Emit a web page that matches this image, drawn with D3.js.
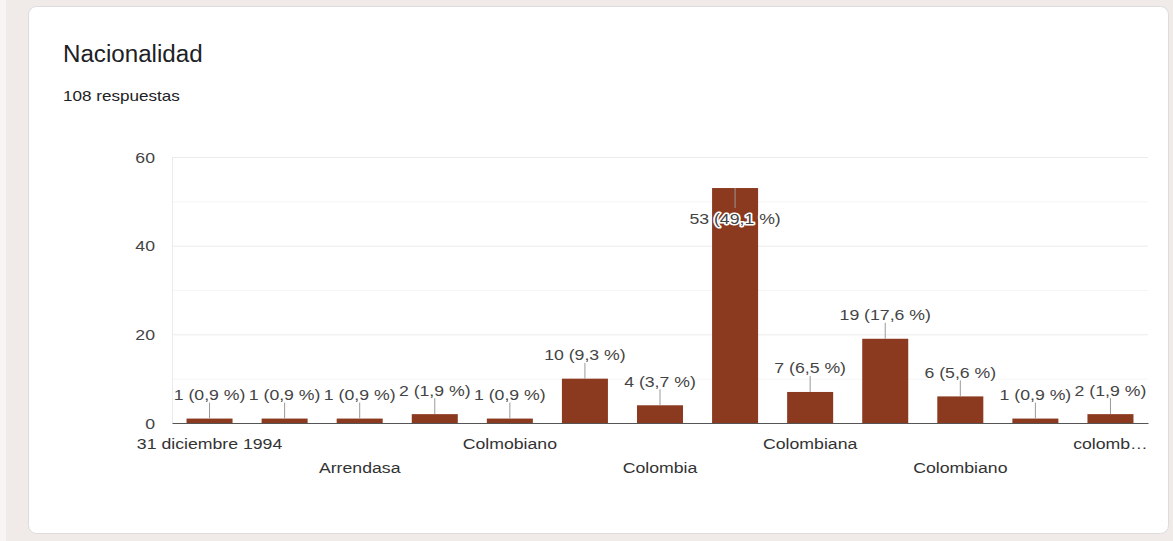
<!DOCTYPE html>
<html>
<head>
<meta charset="utf-8">
<script src="https://cdn.jsdelivr.net/npm/d3@7"></script>
<style>
  html, body { margin: 0; padding: 0; background: #f0ebe9; }
  svg { display: block; font-family: "Liberation Sans", Arial, sans-serif; }
</style>
</head>
<body>
<svg id="chart" width="1173" height="541"></svg>
<script>
// ---- data ----
const title = "Nacionalidad";
const subtitle = "108 respuestas";
const categories = [
  "31 diciembre 1994", "Antioqueño", "Arrendasa", "Caleña", "Colmobiano",
  "Colomb", "Colombia", "Colombia ", "Colombiana", "Colombiana ",
  "Colombiano", "Colombiano ", "colombiana"
];
const counts = [1, 1, 1, 2, 1, 10, 4, 53, 7, 19, 6, 1, 2];
const yTickValues = [0, 20, 40, 60];
const yGridValues = [10, 20, 30, 40, 50, 60];

// ---- layout ----
const W = 1173, H = 541;
const plot = { left: 172, right: 1148, top: 157, bottom: 423 };
const SX = 1.22;           // horizontal text stretch seen in the reference
const barColor = "#8b3a1f";
const total = d3.sum(counts);

const svg = d3.select("#chart");

// page background strips + card
svg.append("rect").attr("x", 0).attr("y", 0).attr("width", 6).attr("height", H).attr("fill", "#f7f4f3");
svg.append("rect")
  .attr("x", 28.5).attr("y", 6.5).attr("width", 1140).attr("height", 527)
  .attr("rx", 8).attr("ry", 8)
  .attr("fill", "#ffffff").attr("stroke", "#dcdcdc").attr("stroke-width", 1);

// helper for stretched text
function stretchedText(parent, x, y, str, size, opts = {}) {
  return parent.append("text")
    .attr("transform", `translate(${x},${y}) scale(${opts.sx ?? SX},1)`)
    .attr("text-anchor", opts.anchor || "start")
    .attr("font-size", size)
    .attr("fill", opts.fill || "#333")
    .text(str);
}

// title + subtitle
stretchedText(svg, 63, 62, title, 23, { fill: "#202124", sx: 1.05 });
stretchedText(svg, 63, 101, subtitle, 14, { fill: "#202124" });

// scales
const x = d3.scaleBand()
  .domain(categories)
  .range([plot.left, plot.right])
  .paddingInner(0.387)
  .paddingOuter(0.1935);
const y = d3.scaleLinear().domain([0, 60]).range([plot.bottom, plot.top]);

// gridlines
const grid = svg.append("g").attr("transform", `translate(${plot.left},0)`)
  .call(d3.axisLeft(y).tickValues(yGridValues).tickSize(-(plot.right - plot.left)).tickFormat(""));
grid.select(".domain").remove();
grid.selectAll(".tick line")
  .attr("stroke", d => (d % 20 === 0 ? "#ebebeb" : "#f5f5f5"))
  .attr("stroke-width", 1);
svg.append("line")
  .attr("x1", plot.left + 0.5).attr("x2", plot.left + 0.5)
  .attr("y1", plot.top).attr("y2", plot.bottom)
  .attr("stroke", "#ebebeb");

// y axis labels
const yAxis = svg.append("g").attr("transform", `translate(${plot.left},0)`)
  .call(d3.axisLeft(y).tickValues(yTickValues).tickSize(0).tickFormat(d3.format("d")));
yAxis.select(".domain").remove();
yAxis.selectAll(".tick text")
  .attr("x", -17 / SX)
  .attr("dy", "0.35em")
  .attr("transform", `scale(${SX},1)`)
  .attr("font-size", 14.5)
  .attr("font-family", "Liberation Sans, Arial, sans-serif")
  .attr("fill", "#444");

// bars
svg.append("g").selectAll("rect")
  .data(counts)
  .join("rect")
  .attr("x", (d, i) => x(categories[i]))
  .attr("width", x.bandwidth())
  .attr("y", d => y(d))
  .attr("height", d => y(0) - y(d))
  .attr("fill", barColor);

// x axis baseline
const xAxis = svg.append("g").attr("transform", `translate(0,${plot.bottom})`)
  .call(d3.axisBottom(x).tickSize(0).tickSizeOuter(0).tickFormat(""));
xAxis.select(".domain").attr("stroke", "#555").attr("stroke-width", 1.2);
xAxis.selectAll(".tick text").remove();

// x category labels (every other, staggered in two rows, truncated at right edge)
const rowY = [449, 473];
categories.forEach((c, i) => {
  if (i % 2 !== 0) return;
  const cx = x(c) + x.bandwidth() / 2;
  const row = (i / 2) % 2;
  const t = stretchedText(svg, cx, rowY[row], c, 14.5, { anchor: "middle", fill: "#333" });
  const maxW = Math.min(2 * x.step(), 2 * (plot.right - cx) + 2);
  let s = c;
  while (t.node().getComputedTextLength() * SX > maxW && s.length > 1) {
    s = s.slice(0, -1);
    t.text(s.trimEnd() + "…");
  }
});

// value annotations with leader lines
const fmtPct = v => (v / total * 100).toFixed(1).replace(".", ",");
counts.forEach((v, i) => {
  const cx = x(categories[i]) + x.bandwidth() / 2;
  const top = y(v);
  const inside = top - 30 < plot.top + 5;
  const lineEnd = inside ? top + 20 : top - 16;
  svg.append("line")
    .attr("x1", cx).attr("x2", cx)
    .attr("y1", top).attr("y2", lineEnd)
    .attr("stroke", "#999").attr("stroke-width", 1);
  const ty = inside ? top + 36 : top - 18.5;
  stretchedText(svg, cx, ty, `${v} (${fmtPct(v)} %)`, 14.5, { anchor: "middle", fill: "#444" })
    .attr("stroke", "#ffffff").attr("stroke-width", 3)
    .attr("stroke-linejoin", "round")
    .attr("paint-order", "stroke");
});
</script>
</body>
</html>
